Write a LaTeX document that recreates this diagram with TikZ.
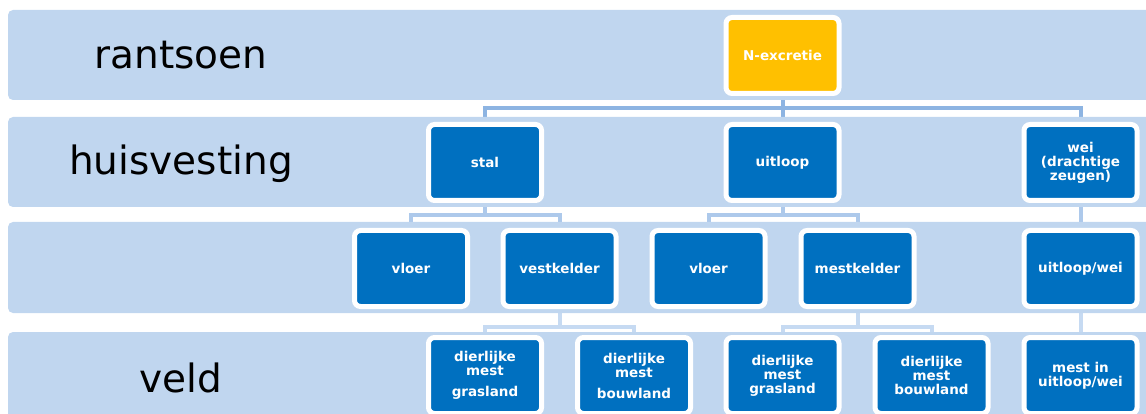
\documentclass[tikz,border=0pt]{standalone}
\usepackage{fontspec}
\setmainfont{DejaVu Sans}
\usetikzlibrary{backgrounds}
\definecolor{bandblue}{RGB}{192,214,239}
\definecolor{boxblue}{RGB}{0,112,192}
\definecolor{boxyellow}{RGB}{255,192,0}
\definecolor{connA}{RGB}{141,180,226}
\definecolor{connB}{RGB}{173,201,235}
\definecolor{connC}{RGB}{198,218,242}
\tikzset{
  band/.style={fill=bandblue, rounded corners=5pt},
  rowlabel/.style={font=\fontsize{39}{44}\selectfont, text=black, anchor=base, inner sep=0},
  box/.style={draw=white, line width=5pt, fill=boxblue, rounded corners=6pt,
    minimum width=113pt, minimum height=76pt, inner sep=0pt, align=center,
    text=white, font=\bfseries\fontsize{13.5}{14}\selectfont},
  topbox/.style={box, fill=boxyellow},
  conn/.style={line width=4pt},
}
\begin{document}
\begin{tikzpicture}[x=1pt,y=-1pt]
\useasboundingbox (0,0) rectangle (1146,414);
\clip (0,0) rectangle (1146,414);
% bands
\fill[band] (8,10) rectangle (1170,100);
\fill[band] (8,117) rectangle (1170,207);
\fill[band] (8,222) rectangle (1170,313);
\fill[band] (8,332) rectangle (1170,440);
% row labels
\node[rowlabel] (lr) at (181,69) {rantsoen};
\node[rowlabel] (lh) at (181,175) {huisvesting};
\node[rowlabel] (lv) at (181,392) {veld};
% nodes
\node[topbox] (n) at (782.5,55.5) {N-excretie};
\node[box] (stal) at (485,162.5) {stal};
\node[box] (uit) at (782.5,162.5) {uitloop};
\node[box] (wei) at (1080.5,162.5) {wei\\(drachtige\\zeugen)};
\node[box] (v1) at (411,268.5) {vloer};
\node[box] (vk) at (559.5,268.5) {vestkelder};
\node[box] (v2) at (708.5,268.5) {vloer};
\node[box] (mk) at (857.5,268.5) {mestkelder};
\node[box] (uw) at (1080.5,268.5) {uitloop/wei};
\node[box] (d1) at (485,375.5) {dierlijke\\mest\\[7pt]grasland};
\node[box] (d2) at (634,375.5) {dierlijke\\mest\\[7pt]bouwland};
\node[box] (d3) at (782.5,375.5) {dierlijke\\mest\\grasland};
\node[box] (d4) at (931.5,375.5) {dierlijke\\mest\\bouwland};
\node[box] (mi) at (1080.5,375.5) {mest in\\uitloop/wei};
% connectors
\begin{scope}[on background layer]
\draw[conn, connA] (n.south) -- (uit.north);
\draw[conn, connA] (n.south) |- (0,108 -| stal.north) -- (stal.north);
\draw[conn, connA] (n.south) |- (0,108 -| wei.north) -- (wei.north);
\draw[conn, connB] (stal.south) |- (0,215.5 -| v1.north) -- (v1.north);
\draw[conn, connB] (stal.south) |- (0,215.5 -| vk.north) -- (vk.north);
\draw[conn, connB] (uit.south) |- (0,215.5 -| v2.north) -- (v2.north);
\draw[conn, connB] (uit.south) |- (0,215.5 -| mk.north) -- (mk.north);
\draw[conn, connB] (wei.south) -- (uw.north);
\draw[conn, connC] (vk.south) |- (0,327 -| d1.north) -- (d1.north);
\draw[conn, connC] (vk.south) |- (0,327 -| d2.north) -- (d2.north);
\draw[conn, connC] (mk.south) |- (0,327 -| d3.north) -- (d3.north);
\draw[conn, connC] (mk.south) |- (0,327 -| d4.north) -- (d4.north);
\draw[conn, connC] (uw.south) -- (mi.north);
\end{scope}
\end{tikzpicture}
\end{document}
